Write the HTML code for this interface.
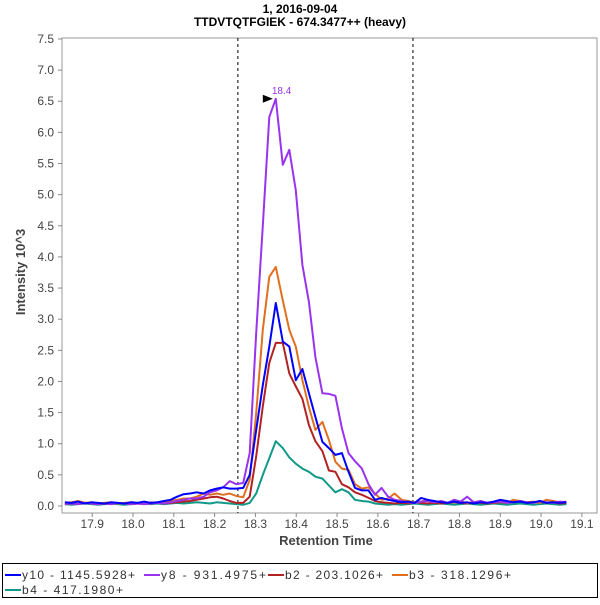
<!DOCTYPE html>
<html><head><meta charset="utf-8"><style>
body{margin:0;background:#fff;font-family:"Liberation Sans","DejaVu Sans",sans-serif}
svg text{font-family:"Liberation Sans","DejaVu Sans",sans-serif}
</style></head><body>
<svg id="c" width="600" height="600" xmlns="http://www.w3.org/2000/svg">
<rect width="600" height="600" fill="#fff"/>
<text x="300" y="13" text-anchor="middle" font-size="12" font-weight="bold" fill="#000">1, 2016-09-04</text>
<text x="300" y="26" text-anchor="middle" font-size="12" font-weight="bold" fill="#000">TTDVTQTFGIEK - 674.3477++ (heavy)</text>
<rect x="62" y="38" width="535" height="475" fill="#fff" stroke="#999" stroke-width="1"/>
<g id="axes"></g>
<g id="series"></g>
<text x="0" y="0" transform="translate(25,272) rotate(-90)" text-anchor="middle" font-size="13" font-weight="bold" fill="#444">Intensity 10^3</text>
<text x="326" y="545" text-anchor="middle" font-size="13" font-weight="bold" fill="#444">Retention Time</text>
<rect x="2.5" y="563.5" width="595" height="34" fill="#fff" stroke="#000"/>
<g id="legend"></g>
</svg>
<script>
const times=[17.833,17.849,17.865,17.882,17.898,17.914,17.930,17.946,17.962,17.979,17.995,18.011,18.027,18.043,18.059,18.076,18.092,18.108,18.124,18.140,18.156,18.173,18.189,18.205,18.221,18.237,18.253,18.270,18.286,18.302,18.318,18.334,18.350,18.367,18.383,18.399,18.415,18.431,18.447,18.464,18.480,18.496,18.512,18.528,18.544,18.561,18.577,18.593,18.609,18.625,18.641,18.658,18.674,18.690,18.706,18.722,18.738,18.755,18.771,18.787,18.803,18.819,18.835,18.852,18.868,18.884,18.900,18.916,18.932,18.949,18.965,18.981,18.997,19.013,19.029,19.046,19.062];
const y10=[0.06,0.05,0.07,0.04,0.06,0.05,0.04,0.06,0.05,0.04,0.06,0.05,0.07,0.05,0.06,0.08,0.1,0.15,0.19,0.2,0.22,0.2,0.25,0.28,0.3,0.28,0.28,0.29,0.5,1.22,1.94,2.56,3.26,2.64,2.56,2.02,2.2,1.81,1.43,1.03,0.93,0.82,0.85,0.55,0.29,0.25,0.25,0.1,0.13,0.1,0.08,0.06,0.07,0.05,0.13,0.1,0.08,0.06,0.05,0.07,0.05,0.06,0.04,0.06,0.05,0.07,0.1,0.08,0.06,0.07,0.05,0.06,0.08,0.05,0.06,0.05,0.06];
const y8=[0.03,0.04,0.03,0.05,0.04,0.03,0.04,0.03,0.05,0.04,0.03,0.04,0.03,0.04,0.05,0.04,0.06,0.08,0.1,0.12,0.12,0.15,0.22,0.25,0.3,0.4,0.35,0.37,0.85,2.78,4.5,6.25,6.54,5.48,5.72,5.07,3.87,3.28,2.39,1.81,1.8,1.77,1.25,0.85,0.72,0.6,0.35,0.18,0.29,0.15,0.1,0.08,0.06,0.05,0.07,0.08,0.06,0.08,0.05,0.1,0.07,0.15,0.06,0.08,0.05,0.06,0.07,0.05,0.06,0.08,0.06,0.05,0.08,0.06,0.05,0.07,0.06];
const b2=[0.03,0.04,0.03,0.05,0.04,0.03,0.04,0.03,0.05,0.04,0.03,0.04,0.03,0.04,0.05,0.04,0.05,0.06,0.07,0.08,0.1,0.12,0.14,0.15,0.12,0.08,0.05,0.05,0.15,0.8,1.6,2.3,2.62,2.62,2.13,1.92,1.72,1.3,1.04,0.88,0.57,0.55,0.35,0.3,0.22,0.18,0.13,0.08,0.06,0.05,0.04,0.05,0.04,0.06,0.05,0.04,0.05,0.04,0.05,0.06,0.05,0.04,0.06,0.05,0.04,0.05,0.06,0.05,0.07,0.08,0.05,0.06,0.07,0.05,0.06,0.04,0.05];
const b3=[0.05,0.06,0.08,0.05,0.06,0.04,0.05,0.06,0.04,0.05,0.06,0.05,0.04,0.06,0.05,0.06,0.08,0.1,0.12,0.12,0.15,0.2,0.18,0.2,0.18,0.2,0.16,0.14,0.42,1.49,2.83,3.68,3.84,3.3,2.83,2.56,2.02,1.59,1.22,1.35,1.06,0.71,0.6,0.58,0.35,0.28,0.3,0.2,0.1,0.12,0.2,0.1,0.08,0.06,0.07,0.1,0.06,0.08,0.05,0.06,0.07,0.05,0.06,0.08,0.05,0.06,0.07,0.05,0.1,0.08,0.06,0.07,0.05,0.1,0.08,0.06,0.07];
const b4=[0.03,0.02,0.03,0.04,0.03,0.02,0.03,0.04,0.03,0.02,0.03,0.04,0.05,0.03,0.04,0.03,0.04,0.05,0.04,0.05,0.06,0.05,0.04,0.06,0.05,0.04,0.03,0.02,0.05,0.2,0.5,0.77,1.04,0.93,0.78,0.68,0.6,0.55,0.47,0.44,0.33,0.22,0.27,0.22,0.1,0.08,0.07,0.04,0.03,0.02,0.03,0.02,0.03,0.04,0.03,0.02,0.03,0.04,0.03,0.02,0.03,0.04,0.03,0.02,0.03,0.04,0.03,0.02,0.03,0.04,0.03,0.02,0.03,0.04,0.03,0.02,0.03];
const seriesNames=["y10 - 1145.5928+","y8 - 931.4975+","b2 - 203.1026+","b3 - 318.1296+","b4 - 417.1980+"];
const seriesColors=["#0000ff","#9933ee","#b22222","#e07020","#119988"];
const seriesData=[y10,y8,b2,b3,b4];
const xTicks=[17.9,18.0,18.1,18.2,18.3,18.4,18.5,18.6,18.7,18.8,18.9,19.0,19.1];
const yTicks=[0,0.5,1,1.5,2,2.5,3,3.5,4,4.5,5,5.5,6,6.5,7,7.5];
const markers=[18.257,18.686];

const NS="http://www.w3.org/2000/svg";
const X0=17.826,X1=19.137,PL=62,PR=597,Y0=506,YS=62.27;
function sx(t){return PL+(t-X0)/(X1-X0)*(PR-PL);}
function sy(v){return Y0-v*YS;}
function mk(tag,attrs,parent){const e=document.createElementNS(NS,tag);for(const k in attrs)e.setAttribute(k,attrs[k]);parent.appendChild(e);return e;}
const ax=document.getElementById('axes');
yTicks.forEach(v=>{
  const l=mk('line',{x1:58,x2:62,y1:sy(v),y2:sy(v),stroke:'#888'},ax);
  
  
  const t=mk('text',{x:54,y:sy(v)+4,'text-anchor':'end','font-size':12,fill:'#444'},ax);
  t.textContent=v.toFixed(1);
  
  
});
xTicks.forEach(v=>{
  const l=mk('line',{x1:sx(v),x2:sx(v),y1:513,y2:517,stroke:'#888'},ax);
  
  
  const t=mk('text',{x:sx(v),y:528,'text-anchor':'middle','font-size':12,fill:'#444'},ax);
  t.textContent=v.toFixed(1);
  
  
});
markers.forEach(m=>{
  const l=mk('line',{x1:sx(m),x2:sx(m),y1:38,y2:513,stroke:'#000','stroke-dasharray':'3,3'},ax);
  
  
});
const sg=document.getElementById('series');
const drawOrder=[4,2,3,1,0];
drawOrder.forEach(i=>{
  const pts=seriesData[i].map((v,k)=>sx(times[k]).toFixed(1)+','+sy(v).toFixed(1)).join(' ');
  const p=mk('polyline',{points:pts,fill:'none',stroke:seriesColors[i],'stroke-width':2,'stroke-linejoin':'round'},sg);
  
  
});
let pk=0;y8.forEach((v,k)=>{if(v>y8[pk])pk=k;});
const px=sx(times[pk]),py=sy(y8[pk]);
const ar=mk('polygon',{points:`${px-3},${py} ${px-13},${py-4} ${px-13},${py+4}`,fill:'#000'},sg);


const pl=mk('text',{x:px-4,y:py-5,'font-size':10,fill:'#9933ee'},sg);
pl.textContent=times[pk].toFixed(1);


const lg=document.getElementById('legend');
const lpos=[[5,574,113],[144,574,105],[268,574,98],[392,574,102],[5,589,101]];
seriesNames.forEach((n,i)=>{
  const [x,y,w]=lpos[i];
  const l=mk('line',{x1:x,x2:x+16,y1:y+1,y2:y+1,stroke:seriesColors[i],'stroke-width':2},lg);
  
  
  const t=mk('text',{x:x+17,y:y+5,'font-size':12,fill:'#333',textLength:w,lengthAdjust:'spacing'},lg);
  t.textContent=n;
  
  
});
</script>
</body></html>
